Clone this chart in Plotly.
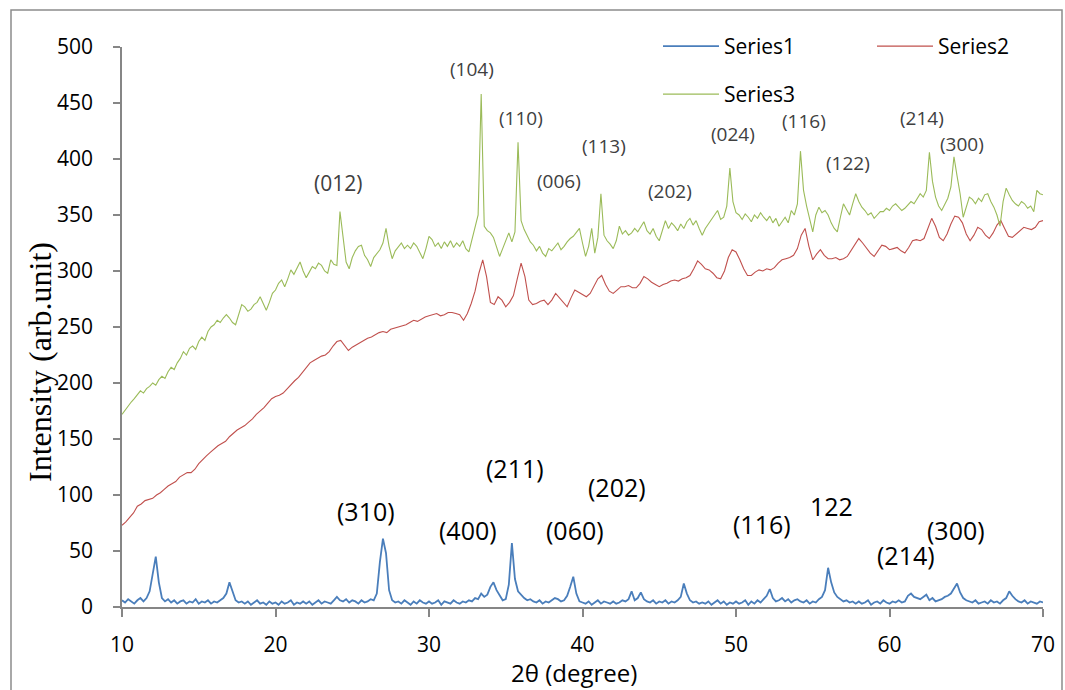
import plotly.graph_objects as go

# ---------------- data ----------------
# Series1 (blue), 2theta from 10 to 70 every 0.2 degree
series1 = [
    6, 4, 7, 5, 3, 6, 8, 5, 8, 14,
    30, 45, 22, 8, 5, 7, 4, 6, 3, 5,
    6, 3, 5, 4, 7, 3, 5, 4, 6, 3,
    5, 4, 6, 8, 12, 22, 14, 6, 4, 5,
    3, 5, 2, 4, 6, 3, 4, 2, 5, 3,
    4, 2, 5, 3, 4, 6, 2, 4, 3, 5,
    3, 5, 2, 4, 6, 3, 5, 4, 3, 6,
    9, 6, 5, 7, 4, 6, 5, 3, 6, 4,
    5, 7, 6, 12, 40, 61, 48, 15, 6, 4,
    5, 3, 6, 4, 2, 5, 3, 6, 4, 3,
    5, 3, 4, 6, 2, 5, 4, 3, 6, 4,
    3, 5, 4, 6, 5, 8, 7, 12, 9, 11,
    18, 22, 15, 10, 6, 7, 20, 57, 25, 14,
    11, 8, 6, 7, 5, 4, 6, 3, 5, 4,
    6, 8, 7, 5, 6, 10, 18, 27, 12, 5,
    4, 3, 5, 2, 4, 6, 3, 5, 4, 3,
    5, 3, 4, 6, 5, 7, 14, 6, 8, 13,
    7, 5, 4, 6, 3, 5, 4, 6, 3, 5,
    4, 6, 9, 21, 12, 6, 4, 5, 3, 4,
    3, 5, 2, 4, 6, 3, 5, 2, 4, 3,
    5, 3, 4, 6, 2, 5, 3, 6, 4, 7,
    10, 16, 8, 5, 6, 8, 5, 7, 4, 6,
    7, 5, 4, 6, 3, 5, 4, 7, 9, 15,
    35, 22, 13, 9, 7, 5, 6, 4, 5, 3,
    5, 3, 4, 6, 2, 4, 5, 3, 6, 4,
    3, 5, 4, 6, 4, 5, 10, 12, 9, 8,
    7, 9, 11, 6, 8, 5, 6, 7, 9, 10,
    12, 16, 21, 13, 8, 6, 5, 4, 6, 3,
    4, 5, 3, 6, 4, 5, 3, 6, 8, 14,
    10, 7, 5, 4, 6, 3, 5, 4, 3, 5,
    4,
]

# Series2 (red), 2theta from 10 to 70 every 0.25 degree
series2 = [
    73, 76, 80, 84, 90, 92, 95, 96,
    97, 100, 102, 105, 108, 110, 112, 116,
    118, 120, 120, 123, 128, 132, 135, 138,
    141, 144, 146, 148, 152, 155, 158, 160,
    162, 165, 168, 172, 175, 178, 182, 186,
    188, 189, 191, 195, 198, 202, 205, 209,
    213, 218, 220, 222, 224, 225, 228, 233,
    237, 238, 233, 229, 232, 234, 236, 238,
    240, 241, 243, 245, 246, 245, 248, 249,
    250, 251, 252, 254, 256, 255, 257, 259,
    260, 261, 262, 260, 261, 263, 263, 262,
    261, 256, 262, 271, 282, 298, 310, 295,
    272, 270, 277, 274, 268, 272, 278, 293,
    307, 295, 274, 270, 271, 273, 274, 270,
    274, 280, 276, 271, 268, 276, 283, 281,
    279, 277, 280, 287, 293, 296, 288, 282,
    280, 283, 286, 286, 287, 285, 285, 289,
    295, 293, 290, 288, 286, 288, 289, 291,
    292, 291, 293, 294, 296, 302, 309, 306,
    302, 301, 298, 294, 293, 300, 312, 319,
    317, 310, 302, 296, 296, 299, 301, 300,
    302, 301, 303, 307, 310, 311, 312, 314,
    320, 332, 338, 322, 310, 315, 319, 314,
    311, 311, 312, 310, 311, 313, 318, 324,
    329, 325, 320, 316, 313, 318, 323, 322,
    319, 320, 321, 318, 316, 321, 327, 328,
    327, 329, 338, 347, 340, 330, 327, 333,
    342, 349, 348, 343, 333, 327, 332, 339,
    337, 332, 329, 334, 341, 345, 338, 331,
    330, 333, 336, 339, 338, 337, 339, 344,
    345,
]

# Series3 (green), 2theta from 10 to 70 every 0.2 degree
series3 = [
    172, 176, 180, 183, 186, 190, 193, 191, 195, 197,
    200, 198, 203, 206, 204, 210, 214, 212, 218, 222,
    228, 225, 231, 233, 230, 237, 241, 238, 246, 250,
    252, 256, 254, 258, 261, 258, 254, 252, 262, 270,
    268, 264, 266, 270, 272, 277, 271, 265, 272, 280,
    283, 289, 292, 286, 293, 301, 297, 302, 308, 300,
    294, 299, 304, 302, 307, 305, 300, 298, 310, 306,
    305, 353, 330, 308, 302, 312, 318, 322, 323, 314,
    310, 304, 312, 316, 319, 325, 338, 322, 311, 318,
    322, 325, 320, 323, 320, 325, 322, 316, 311, 320,
    331, 328, 322, 325, 320, 326, 322, 327, 321, 325,
    322, 327, 320, 317, 328, 337, 350, 458, 340, 336,
    334, 330, 322, 313, 320, 328, 334, 326, 335, 415,
    345, 337, 332, 326, 323, 318, 322, 316, 313, 320,
    318, 322, 325, 319, 322, 326, 329, 331, 335, 338,
    325, 313, 322, 338, 316, 330, 369, 332, 327, 324,
    320, 327, 340, 333, 336, 332, 334, 338, 335, 340,
    344, 336, 333, 338, 331, 327, 335, 345, 338, 343,
    340, 336, 342, 338, 344, 347, 341, 345, 338, 332,
    338, 342, 346, 350, 354, 346, 348, 358, 392, 362,
    352, 350, 346, 351, 348, 344, 350, 347, 352, 348,
    345, 349, 343, 347, 340, 344, 348, 343, 354, 350,
    360, 407, 372, 358, 345, 335, 350, 357, 352, 354,
    350, 343, 338, 335, 348, 360, 355, 350, 360, 369,
    362, 357, 354, 350, 352, 347, 350, 353, 353, 356,
    354, 358, 360, 357, 354, 356, 359, 362, 360, 364,
    369, 366, 372, 406, 380, 366, 358, 354, 360, 365,
    375, 402, 385, 369, 348, 358, 366, 364, 360, 365,
    362, 368, 369, 362, 357, 350, 340, 362, 374, 368,
    363, 360, 358, 362, 360, 356, 358, 353, 372, 369,
    368,
]

x1 = [round(10 + 0.2 * i, 2) for i in range(len(series1))]
x2 = [round(10 + 0.25 * i, 2) for i in range(len(series2))]
x3 = [round(10 + 0.2 * i, 2) for i in range(len(series3))]

# peak labels: (text, 2theta, intensity)
upper_labels = ["(012)", "(104)", "(110)", "(006)", "(113)", "(202)",
                "(024)", "(116)", "(122)", "(214)", "(300)"]
upper_x = [24.1, 32.8, 36.0, 38.5, 41.4, 45.7, 49.8, 54.4, 57.3, 62.1, 64.7]
upper_y = [379, 480, 437, 380, 412, 371, 422, 434, 396, 437, 413]

lower_labels = ["(310)", "(400)", "(211)", "(060)", "(202)", "(116)",
                "122", "(214)", "(300)"]
lower_x = [25.9, 32.55, 35.6, 39.5, 42.25, 51.7, 56.2, 61.1, 64.3]
lower_y = [86, 69, 124, 69, 107, 74, 90, 46, 69]

x_ticks = [10, 20, 30, 40, 50, 60, 70]
y_ticks = [0, 50, 100, 150, 200, 250, 300, 350, 400, 450, 500]

# ---------------- figure ----------------
W, H = 1065, 690
ML, MR, MT, MB = 122, 22, 47, 83
PW, PH = W - ML - MR, H - MT - MB

def px_x(p):
    return (p - ML) / PW

def px_y(p):
    return (H - MB - p) / PH

fig = go.Figure()
fig.add_trace(go.Scatter(x=x1, y=series1, mode="lines", name="Series1",
                         line=dict(color="#4A7EBB", width=1.8), legend="legend"))
fig.add_trace(go.Scatter(x=x2, y=series2, mode="lines", name="Series2",
                         line=dict(color="#C0504D", width=1.1), legend="legend"))
fig.add_trace(go.Scatter(x=x3, y=series3, mode="lines", name="Series3",
                         line=dict(color="#9BBB59", width=1.1), legend="legend2"))

annotations = []
for i, (t, xx, yy) in enumerate(zip(upper_labels, upper_x, upper_y)):
    annotations.append(dict(x=xx, y=yy, xref="x", yref="y", text=t, showarrow=False,
                            xanchor="center", yanchor="middle",
                            font=dict(family="Open Sans", size=21 if i == 0 else 19,
                                      color="#404040")))
for t, xx, yy in zip(lower_labels, lower_x, lower_y):
    annotations.append(dict(x=xx, y=yy, xref="x", yref="y", text=t, showarrow=False,
                            xanchor="center", yanchor="middle",
                            font=dict(family="Open Sans", size=25, color="#000000")))
# axis titles
annotations.append(dict(x=px_x(40), y=px_y(362), xref="paper", yref="paper",
                        xanchor="center", yanchor="middle",
                        text="Intensity (arb.unit)", textangle=-90, showarrow=False,
                        font=dict(family="Liberation Serif", size=32, color="#000000")))
annotations.append(dict(x=px_x(574), y=px_y(672), xref="paper", yref="paper",
                        xanchor="center", yanchor="middle", borderpad=0,
                        text="2θ (degree)", showarrow=False,
                        font=dict(family="Open Sans", size=24, color="#000000")))

axis_common = dict(showgrid=False, zeroline=False, showline=True, linecolor="#868686",
                   linewidth=1.5, ticks="outside", tickcolor="#868686", tickwidth=1.5,
                   tickfont=dict(family="Open Sans", size=21, color="#000000"))

fig.update_layout(
    width=W, height=H,
    margin=dict(l=ML, r=MR, t=MT, b=MB, autoexpand=False),
    paper_bgcolor="white", plot_bgcolor="white",
    xaxis=dict(range=[10, 70], tickvals=x_ticks, ticklen=8, ticklabelstandoff=10,
               **axis_common),
    yaxis=dict(range=[0, 500], tickvals=y_ticks, ticklen=7, ticklabelstandoff=16,
               **axis_common),
    legend=dict(orientation="h", x=px_x(658), y=px_y(26), xanchor="left", yanchor="top",
                entrywidth=143, entrywidthmode="pixels",
                font=dict(family="Open Sans", size=21, color="#000000"),
                bgcolor="rgba(0,0,0,0)", itemwidth=56),
    legend2=dict(orientation="h", x=px_x(658), y=px_y(74), xanchor="left", yanchor="top",
                 font=dict(family="Open Sans", size=21, color="#000000"),
                 bgcolor="rgba(0,0,0,0)", itemwidth=56),
    annotations=annotations,
    shapes=[dict(type="rect", xref="paper", yref="paper",
                 x0=px_x(11), x1=px_x(1062), y0=px_y(720), y1=px_y(10),
                 line=dict(color="#8C8C8C", width=1.5), fillcolor="rgba(0,0,0,0)",
                 layer="below")],
    showlegend=True,
)

fig.write_html("out.html")
